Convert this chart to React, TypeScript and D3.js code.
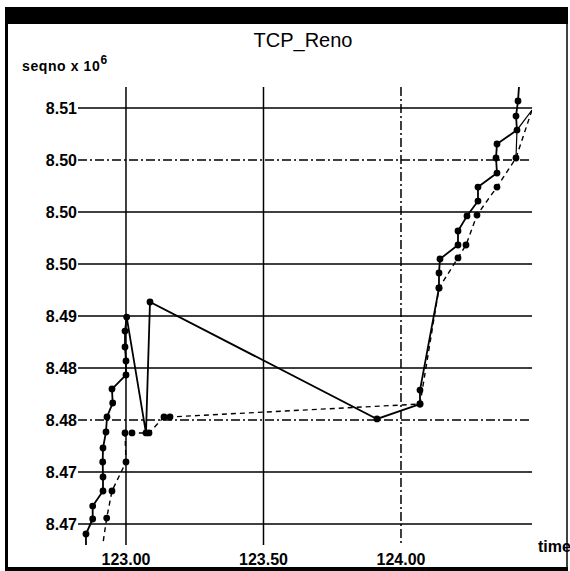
import React from 'react';
import * as d3 from 'd3';

// time axis
const xTicks = [123.0, 123.5, 124.0];
const xTickLabels = ['123.00', '123.50', '124.00'];

// seqno x 10^6 axis (the original labels are rounded oddly, keep them as printed)
const yTicks = [8.466, 8.4715, 8.477, 8.4825, 8.488, 8.4935, 8.499, 8.5045, 8.51];
const yTickLabels = ['8.47', '8.47', '8.48', '8.48', '8.49', '8.50', '8.50', '8.50', '8.51'];

// packets sent (solid line with dots)
const sentTime = [
  122.8545, 122.8545, 122.8789, 122.8789, 122.9164, 122.9164, 122.9153, 122.9164,
  122.9273, 122.9309, 122.9516, 122.9491, 123.0, 123.0, 122.9964, 122.9964,
  123.0025, 123.0727, 123.0873, 123.9127, 124.0691, 124.0691, 124.1382, 124.1382,
  124.1418, 124.2073, 124.2073, 124.24, 124.28, 124.28, 124.3491, 124.3455,
  124.3491, 124.4218, 124.4182, 124.4255, 124.4302,
];
const sentSeq = [
  8.46325, 8.46494, 8.46653, 8.4679, 8.46949, 8.47097, 8.47256, 8.47404,
  8.47573, 8.47732, 8.4788, 8.48028, 8.48176, 8.48324, 8.48472, 8.48641,
  8.48789, 8.47563, 8.48948, 8.47711, 8.47869, 8.48017, 8.49096, 8.49255,
  8.49403, 8.49551, 8.49699, 8.49858, 8.50016, 8.50164, 8.50312, 8.50471,
  8.50619, 8.50767, 8.50915, 8.51074, 8.51275,
];

// acks (dashed line with dots)
const ackTime = [
  122.9127, 122.9298, 122.9491, 123.0, 122.9964, 123.0218, 123.0836, 123.1382,
  123.16, 124.0691, 124.1382, 124.2073, 124.2364, 124.2764, 124.3491, 124.4182,
  124.4764,
];
const ackSeq = [
  8.46325, 8.46663, 8.46949, 8.47256, 8.47563, 8.47563, 8.47563, 8.47732,
  8.47732, 8.47869, 8.49096, 8.49414, 8.49551, 8.49868, 8.50164, 8.50471,
  8.50979,
];

// short link at the top right
const linkTime = [124.4182, 124.4218, 124.4764];
const linkSeq = [8.50471, 8.50767, 8.50979];

const W = 570;
const H = 571;
const plot = { left: 78, right: 532, top: 87, bottom: 545 };
const FONT = '"Liberation Sans", Arial, Helvetica, sans-serif';
const dashedY = new Set([2, 7]);
const dashedX = new Set([2]);

export default function App() {
  const x = d3.scaleLinear().domain([122.8255, 124.4764]).range([plot.left, plot.right]);
  const y = d3.scaleLinear().domain([8.466, 8.51]).range([524, 108]);
  const line = d3.line<[number, number]>().x((d) => x(d[0])).y((d) => y(d[1]));

  const sent = sentTime.map((t, i) => [t, sentSeq[i]] as [number, number]);
  const ack = ackTime.map((t, i) => [t, ackSeq[i]] as [number, number]);
  const link = linkTime.map((t, i) => [t, linkSeq[i]] as [number, number]);
  const dots = (pts: [number, number][]) => pts.slice(1, -1);

  return (
    <svg
      width={W}
      height={H}
      style={{ position: 'absolute', left: 0, top: 0, background: '#fff' }}
      fontFamily={FONT}
    >
      <defs>
        <clipPath id="plotClip">
          <rect x={plot.left} y={plot.top} width={plot.right - plot.left} height={plot.bottom - plot.top} />
        </clipPath>
      </defs>

      {/* frame */}
      <rect x={6} y={7} width={562} height={17} fill="#000" />
      <line x1={6.5} y1={7} x2={6.5} y2={570} stroke="#000" strokeWidth={3} />
      <line x1={567} y1={7} x2={567} y2={570} stroke="#000" strokeWidth={1.5} />
      <line x1={5} y1={569} x2={568} y2={569} stroke="#000" strokeWidth={4} />

      <text x={303} y={47} textAnchor="middle" fontSize={20}>TCP_Reno</text>
      <text x={22} y={71} fontSize={14} fontWeight="bold" letterSpacing={0.6}>
        seqno x 10<tspan dy={-7} fontSize={12}>6</tspan>
      </text>

      {/* grid */}
      {yTicks.map((v, i) => (
        <g key={'y' + i}>
          <line
            x1={plot.left}
            x2={plot.right}
            y1={y(v)}
            y2={y(v)}
            stroke="#000"
            strokeWidth={1.5}
            strokeDasharray={dashedY.has(i) ? '9,3,2,3' : undefined}
          />
          <text x={77} y={y(v)} dy="0.36em" textAnchor="end" fontSize={16} fontWeight="bold">
            {yTickLabels[i]}
          </text>
        </g>
      ))}
      {xTicks.map((v, i) => (
        <g key={'x' + i}>
          <line
            x1={x(v)}
            x2={x(v)}
            y1={plot.top}
            y2={plot.bottom}
            stroke="#000"
            strokeWidth={1.5}
            strokeDasharray={dashedX.has(i) ? '9,3,2,3' : undefined}
          />
          <text x={x(v)} y={565} textAnchor="middle" fontSize={16} fontWeight="bold">
            {xTickLabels[i]}
          </text>
        </g>
      ))}
      <text x={538} y={552} fontSize={16} fontWeight="bold">time</text>

      {/* series */}
      <g clipPath="url(#plotClip)">
        <path d={line(link) ?? ''} fill="none" stroke="#000" strokeWidth={1.2} />
        <path d={line(ack) ?? ''} fill="none" stroke="#000" strokeWidth={1.4} strokeDasharray="5,4" />
        <path d={line(sent) ?? ''} fill="none" stroke="#000" strokeWidth={1.8} />
        {dots(ack).map((d, i) => (
          <circle key={'a' + i} cx={x(d[0])} cy={y(d[1])} r={3.4} fill="#000" />
        ))}
        {dots(sent).map((d, i) => (
          <circle key={'s' + i} cx={x(d[0])} cy={y(d[1])} r={3.4} fill="#000" />
        ))}
      </g>
    </svg>
  );
}
